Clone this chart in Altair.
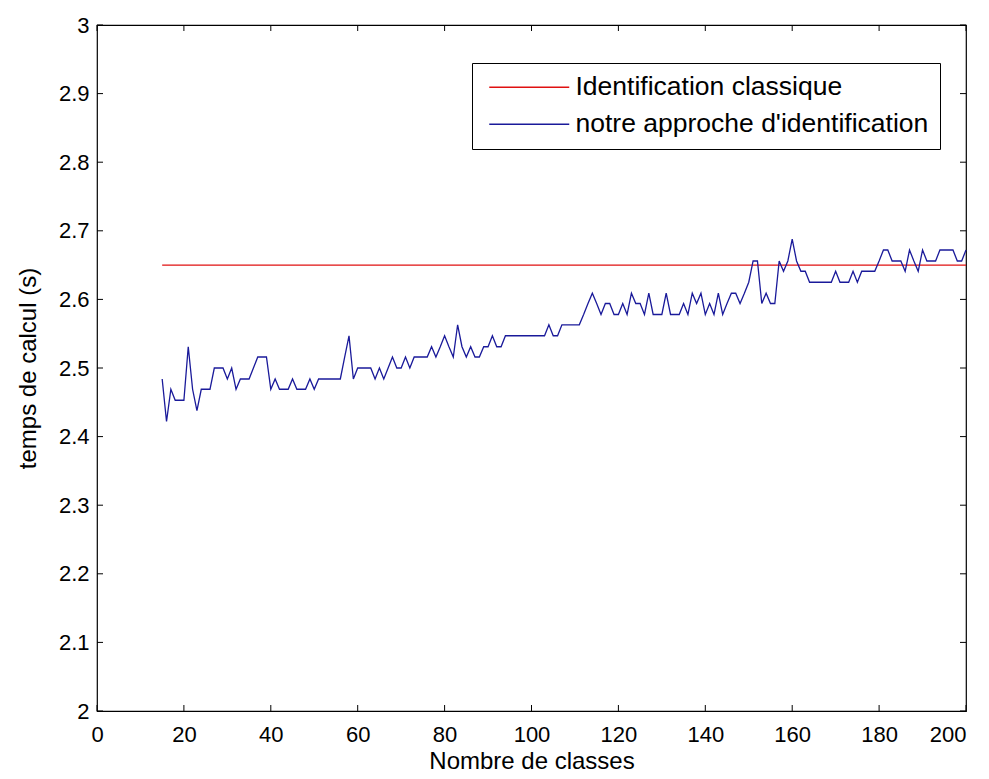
import altair as alt
import pandas as pd

# ---- data ----
nb_classes = list(range(15, 201))
notre_approche = [
    2.484, 2.422, 2.469, 2.453, 2.453, 2.453, 2.531, 2.469, 2.438, 2.469,
    2.469, 2.469, 2.5, 2.5, 2.5, 2.484, 2.5, 2.469, 2.484, 2.484,
    2.484, 2.5, 2.516, 2.516, 2.516, 2.469, 2.484, 2.469, 2.469, 2.469,
    2.484, 2.469, 2.469, 2.469, 2.484, 2.469, 2.484, 2.484, 2.484, 2.484,
    2.484, 2.484, 2.516, 2.547, 2.484, 2.5, 2.5, 2.5, 2.5, 2.484,
    2.5, 2.484, 2.5, 2.516, 2.5, 2.5, 2.516, 2.5, 2.516, 2.516,
    2.516, 2.516, 2.531, 2.516, 2.531, 2.547, 2.531, 2.516, 2.563, 2.531,
    2.516, 2.531, 2.516, 2.516, 2.531, 2.531, 2.547, 2.531, 2.531, 2.547,
    2.547, 2.547, 2.547, 2.547, 2.547, 2.547, 2.547, 2.547, 2.547, 2.563,
    2.547, 2.547, 2.563, 2.563, 2.563, 2.563, 2.563, 2.578, 2.594, 2.609,
    2.594, 2.578, 2.594, 2.594, 2.578, 2.578, 2.594, 2.578, 2.609, 2.594,
    2.594, 2.578, 2.609, 2.578, 2.578, 2.578, 2.609, 2.578, 2.578, 2.578,
    2.594, 2.578, 2.609, 2.594, 2.609, 2.578, 2.594, 2.578, 2.609, 2.578,
    2.594, 2.609, 2.609, 2.594, 2.609, 2.625, 2.656, 2.656, 2.594, 2.609,
    2.594, 2.594, 2.656, 2.641, 2.656, 2.688, 2.656, 2.641, 2.641, 2.625,
    2.625, 2.625, 2.625, 2.625, 2.625, 2.641, 2.625, 2.625, 2.625, 2.641,
    2.625, 2.641, 2.641, 2.641, 2.641, 2.656, 2.672, 2.672, 2.656, 2.656,
    2.656, 2.641, 2.672, 2.656, 2.641, 2.672, 2.656, 2.656, 2.656, 2.672,
    2.672, 2.672, 2.672, 2.656, 2.656, 2.672,
]
classique_x = [15, 200]
classique_y = [2.65, 2.65]

series_names = ["Identification classique", "notre approche d'identification"]
series_colors = ["#e01010", "#1a1a9a"]

x_ticks = [0, 20, 40, 60, 80, 100, 120, 140, 160, 180, 200]
y_ticks = [2.0, 2.1, 2.2, 2.3, 2.4, 2.5, 2.6, 2.7, 2.8, 2.9, 3.0]

W, H = 869, 686
TICK_FONT = "Liberation Sans, Arial, sans-serif"
TEXT_FONT = "Liberation Sans, Arial, sans-serif"

df = pd.concat([
    pd.DataFrame({"x": classique_x, "y": classique_y, "serie": series_names[0]}),
    pd.DataFrame({"x": nb_classes, "y": notre_approche, "serie": series_names[1]}),
])

xscale = alt.Scale(domain=[0, 200], nice=False, zero=False)
yscale = alt.Scale(domain=[2, 3], nice=False, zero=False)
xaxis = alt.Axis(values=x_ticks, title="Nombre de classes", format="d", labelFlush=False,
                 labelAlign={"condition": {"test": "datum.value == 200", "value": "right"},
                             "value": "center"})
yaxis = alt.Axis(values=y_ticks, title="temps de calcul (s)", labelFlush=False,
                 labelExpr="datum.value == 2 ? '2' : datum.value == 3 ? '3' : format(datum.value, '.1f')")

lines = alt.Chart(df).mark_line(strokeWidth=1.3).encode(
    x=alt.X("x:Q", scale=xscale, axis=xaxis),
    y=alt.Y("y:Q", scale=yscale, axis=yaxis),
    color=alt.Color("serie:N",
                    scale=alt.Scale(domain=series_names, range=series_colors),
                    legend=alt.Legend(title=None, orient="none", legendX=375, legendY=38,
                                      strokeColor="black", fillColor="white", padding=11,
                                      symbolType="M-0.7,0H7.3", symbolSize=400,
                                      symbolStrokeWidth=1.3, labelFont=TEXT_FONT,
                                      labelFontSize=26.5, labelColor="black",
                                      labelOffset=66, rowPadding=10,
                                      labelLimit=600)),
    order=alt.Order("x:Q"),
)

xt = pd.DataFrame({"x": x_ticks})
yt = pd.DataFrame({"y": y_ticks})
bottom_ticks = alt.Chart(xt).mark_rule(color="black").encode(
    x=alt.X("x:Q", scale=xscale, axis=xaxis), y=alt.value(H), y2=alt.value(H - 6))
top_ticks = alt.Chart(xt).mark_rule(color="black").encode(
    x=alt.X("x:Q", scale=xscale, axis=xaxis), y=alt.value(0), y2=alt.value(6))
left_ticks = alt.Chart(yt).mark_rule(color="black").encode(
    y=alt.Y("y:Q", scale=yscale, axis=yaxis), x=alt.value(0), x2=alt.value(6))
right_ticks = alt.Chart(yt).mark_rule(color="black").encode(
    y=alt.Y("y:Q", scale=yscale, axis=yaxis), x=alt.value(W), x2=alt.value(W - 6))

chart = alt.layer(lines, bottom_ticks, top_ticks, left_ticks, right_ticks).properties(
    width=W, height=H,
    autosize=alt.AutoSizeParams(type="none"),
    padding={"left": 89, "top": 17, "right": 15, "bottom": 62},
    background="white",
).configure_view(
    stroke="black", strokeWidth=1.2
).configure_axis(
    domain=False, ticks=False, grid=False,
    labelFont=TICK_FONT, labelFontSize=22, labelColor="black",
    titleFont=TEXT_FONT, titleFontSize=24, titleColor="black", titleFontWeight="normal",
).configure_axisX(
    labelPadding=13, titlePadding=4,
).configure_axisY(
    labelPadding=8, titlePadding=18,
)

chart.save("out.html", embed_options={"renderer": "svg", "actions": False})
